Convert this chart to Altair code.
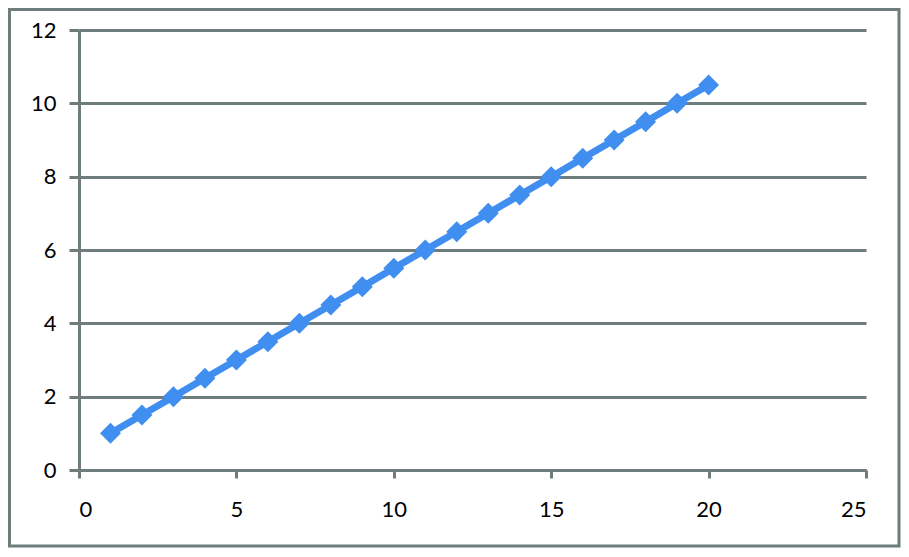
import altair as alt
import pandas as pd

x_vals = list(range(1, 21))
y_vals = [1, 1.5, 2, 2.5, 3, 3.5, 4, 4.5, 5, 5.5, 6, 6.5, 7, 7.5, 8, 8.5, 9, 9.5, 10, 10.5]
x_ticks = [0, 5, 10, 15, 20, 25]
y_ticks = [0, 2, 4, 6, 8, 10, 12]

df = pd.DataFrame({"x": x_vals, "y": y_vals})

GRAY = "#6f7c7c"
BLUE = "#3f8ef0"
FONT = "Lato"

xenc = alt.X("x:Q", scale=alt.Scale(domain=[0, 25], nice=False),
             axis=alt.Axis(values=x_ticks, title=None, grid=False, domainColor=GRAY,
                           domainWidth=3, tickColor=GRAY, tickWidth=3, tickSize=8,
                           labelPadding=21, labelFontSize=22, labelFont=FONT,
                           labelColor="#000"))
yenc = alt.Y("y:Q", scale=alt.Scale(domain=[0, 12], nice=False),
             axis=alt.Axis(values=y_ticks, title=None, grid=True, gridColor=GRAY,
                           gridWidth=3, domainColor=GRAY, domainWidth=3,
                           tickColor=GRAY, tickWidth=3, tickSize=10, labelPadding=13,
                           labelFontSize=22, labelFont=FONT, labelColor="#000"))

line = alt.Chart(df).mark_line(color=BLUE, strokeWidth=7).encode(x=xenc, y=yenc)
points = alt.Chart(df).mark_point(shape="diamond", filled=True, color=BLUE,
                                  size=440, opacity=1).encode(x="x:Q", y="y:Q")

border = alt.Chart(pd.DataFrame({"a": [0]})).mark_rect(
    fillOpacity=0, stroke=GRAY, strokeWidth=3
).encode(x=alt.value(-69.5), x2=alt.value(820), y=alt.value(-20.5), y2=alt.value(516))

chart = alt.layer(border, line, points).properties(
    width=787, height=440,
    autosize=alt.AutoSizeParams(type="none"),
    padding={"left": 71, "top": 22, "right": 35, "bottom": 79},
).configure_view(stroke=None)

chart.save("out.html", embed_options={"renderer": "svg", "actions": False})
